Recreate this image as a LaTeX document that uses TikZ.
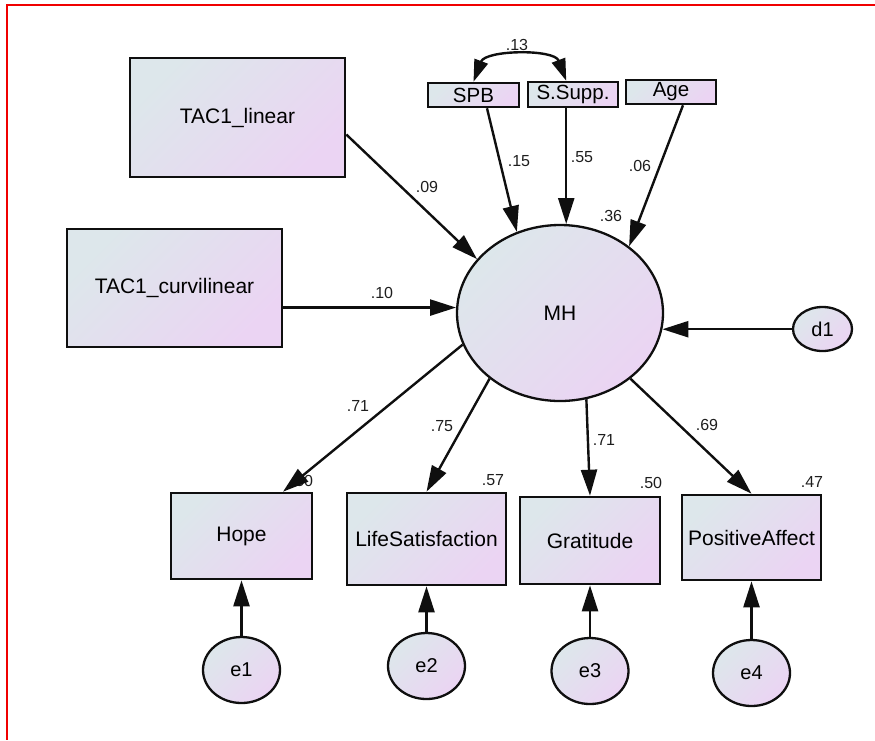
\documentclass[tikz,border=0pt]{standalone}
\usepackage{fontspec}
\setmainfont{Liberation Sans}
\usetikzlibrary{arrows.meta,calc,shapes.geometric}
\definecolor{fillA}{RGB}{221,231,235}
\definecolor{fillB}{RGB}{235,212,243}
\definecolor{inkdark}{RGB}{15,15,15}
\definecolor{coefgray}{RGB}{30,30,30}
\definecolor{framered}{RGB}{240,0,0}
\begin{document}
\begin{tikzpicture}[x=1pt,y=-1pt,
  grad/.style={draw=inkdark, line width=2.6pt, top color=fillA, bottom color=fillB, shading angle=45, inner sep=0pt},
  obsbox/.style={grad, rectangle, font=\fontsize{21}{24}\selectfont, text=black},
  smallbox/.style={grad, rectangle, line width=2.5pt, font=\fontsize{20.5}{22}\selectfont, text=black},
  latent/.style={grad, ellipse, line width=2.3pt, font=\fontsize{21}{24}\selectfont, text=black},
  errnode/.style={grad, ellipse, line width=2.3pt, minimum width=77pt, minimum height=66pt, font=\fontsize{20}{22}\selectfont, text=black},
  coef/.style={font=\fontsize{16}{18}\selectfont, text=coefgray, inner sep=0pt},
  arr/.style={line width=2.4pt, draw=inkdark, -{Triangle[length=26pt,width=16pt]}},
  corr/.style={line width=2.4pt, draw=inkdark, {Triangle[length=22pt,width=14pt]}-{Triangle[length=22pt,width=14pt]}},
]
\useasboundingbox (0,0) rectangle (875,740);

% frame
\draw[framered, line width=2.5pt] (875,5) -- (7,5) -- (7,740);

% exogenous observed variables
\node[obsbox, minimum width=215pt, minimum height=119pt] (tacl) at (237.5,117.5) {TAC1\_linear};
\node[obsbox, minimum width=215pt, minimum height=118pt] (tacc) at (174.5,288) {TAC1\_curvilinear};
\node[smallbox, minimum width=91pt, minimum height=24pt] (spb) at (473.5,95) {SPB};
\node[smallbox, minimum width=90pt, minimum height=25pt] (ssupp) at (573,94.5) {S.Supp.};
\node[smallbox, minimum width=90pt, minimum height=24pt] (age) at (671,92) {Age};

% latent factor and disturbance
\node[latent, minimum width=206pt, minimum height=176pt] (mh) at (560,313) {MH};
\node[latent, minimum width=59pt, minimum height=44pt, font=\fontsize{20}{22}\selectfont] (d1) at (822.5,329) {d1};

% indicators
\node[obsbox, minimum width=141pt, minimum height=86pt] (hope) at (241.5,536) {Hope};
\node[obsbox, minimum width=159pt, minimum height=92pt] (life) at (426.5,539) {LifeSatisfaction};
\node[obsbox, minimum width=140pt, minimum height=87pt] (grat) at (590,540.5) {Gratitude};
\node[obsbox, minimum width=139pt, minimum height=85pt] (posa) at (751.5,537.5) {PositiveAffect};

% error terms
\node[errnode] (e1) at (241.5,670) {e1};
\node[errnode] (e2) at (426.5,666) {e2};
\node[errnode] (e3) at (590,671) {e3};
\node[errnode] (e4) at (751.5,673) {e4};

% coefficients
\node[coef] (c13) at (517,45) {.13};
\node[coef] (c15) at (519,161) {.15};
\node[coef] (c55) at (582,157) {.55};
\node[coef] (c06) at (640,166) {.06};
\node[coef] (c09) at (427,187) {.09};
\node[coef] (r36) at (611,216) {.36};
\node[coef] (c10) at (382,293) {.10};
\node[coef] (l71a) at (358,406) {.71};
\node[coef] (l75) at (442,426) {.75};
\node[coef] (l71b) at (604,440) {.71};
\node[coef] (l69) at (707,425) {.69};
\node[coef] (r50a) at (302,481) {.50};
\node[coef] (r57) at (493,480) {.57};
\node[coef] (r50b) at (651,483) {.50};
\node[coef] (r47) at (812,482) {.47};

% structural paths
\draw[arr] ($(tacl.east)+(0,17)$) -- (mh.147);
\draw[arr] (mh.177 -| tacc.east) -- (mh.177);
\draw[arr] ($(spb.south)+(13.5,0)$) -- (mh.118);
\draw[arr] (ssupp.south -| mh.86) -- (mh.86);
\draw[arr] ($(age.south)+(12,0)$) -- (mh.44);
\draw[arr] (mh.351 -| d1.west) -- (mh.351);

% covariance
\draw[corr] (spb.north) .. controls +(12,-32) and +(-12,-32) .. (ssupp.north -| mh.86);

% measurement paths
\draw[arr] (mh.198) -- ($(hope.north)+(41.5,0)$);
\draw[arr] (mh.223) -- (life.north);
\draw[arr] (mh.287) -- (grat.north);
\draw[arr] (mh.317) -- (posa.north);

\draw[arr] (e1) -- (hope);
\draw[arr] (e2) -- (life);
\draw[arr] (e3) -- (grat);
\draw[arr] (e4) -- (posa);
\end{tikzpicture}
\end{document}
